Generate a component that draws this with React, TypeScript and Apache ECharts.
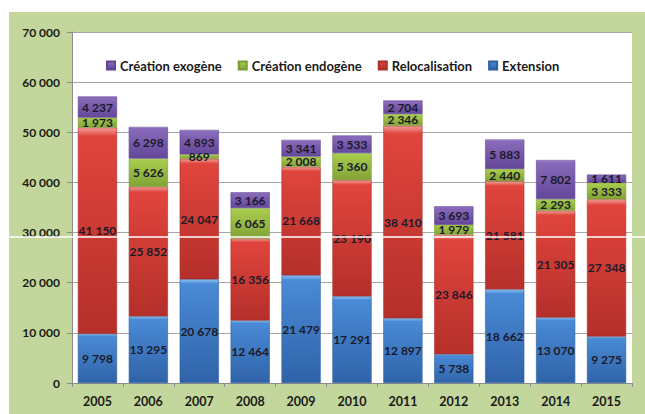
import React, { useEffect, useRef } from "react";
import * as echarts from "echarts";

const years = ["2005", "2006", "2007", "2008", "2009", "2010", "2011", "2012", "2013", "2014", "2015"];
const extension = [9798, 13295, 20678, 12464, 21479, 17291, 12897, 5738, 18662, 13070, 9275];
const relocalisation = [41150, 25852, 24047, 16356, 21668, 23190, 38410, 23846, 21581, 21305, 27348];
const creationEndogene = [1973, 5626, 869, 6065, 2008, 5360, 2346, 1979, 2440, 2293, 3333];
const creationExogene = [4237, 6298, 4893, 3166, 3341, 3533, 2704, 3693, 5883, 7802, 1611];
const legendOrder = ["Création exogène", "Création endogène", "Relocalisation", "Extension"];

const fmt = (v: number): string => {
  const s = String(Math.round(v));
  return s.replace(/\B(?=(\d{3})+(?!\d))/g, " ");
};

const FONT = "Lato, 'Open Sans', sans-serif";

const grad = (top: string, mid: string, bottom: string) =>
  new echarts.graphic.LinearGradient(0, 0, 0, 1, [
    { offset: 0, color: top },
    { offset: 0.04, color: mid },
    { offset: 1, color: bottom },
  ]);

export default function App() {
  const ref = useRef<HTMLDivElement>(null);
  useEffect(() => {
    if (!ref.current) return;
    const chart = echarts.init(ref.current, undefined, { renderer: "svg" });
    const mk = (name: string, data: number[], color: any, border: string) => ({
      name,
      type: "bar",
      stack: "total",
      data,
      barCategoryGap: "23%",
      itemStyle: { color, borderColor: border, borderWidth: 0.6 },
      label: {
        show: true,
        position: "inside",
        formatter: (p: any) => fmt(p.value),
        color: "#1a1a2a",
        fontFamily: FONT,
        fontWeight: "bold",
        fontSize: 12,
      },
    });
    chart.setOption({
      animation: false,
      backgroundColor: "#c3d69b",
      textStyle: { fontFamily: FONT },
      grid: {
        left: 63,
        right: 13,
        top: 20,
        bottom: 31,
        show: true,
        backgroundColor: "#ffffff",
        borderWidth: 0,
      },
      legend: {
        data: legendOrder.map((n) => ({ name: n })),
        top: 42,
        left: 92,
        itemWidth: 8,
        itemHeight: 8,
        itemGap: 16,
        icon: "rect",
        textStyle: { fontFamily: FONT, fontWeight: "bold", fontSize: 13, color: "#1a1a1a" },
      },
      xAxis: {
        type: "category",
        data: years,
        axisLine: { show: true, lineStyle: { color: "#8c8c8c" } },
        axisTick: { show: true, length: 4, lineStyle: { color: "#8c8c8c" } },
        axisLabel: { fontFamily: FONT, fontWeight: "bold", fontSize: 12.5, color: "#1a1a1a", margin: 12 },
      },
      yAxis: {
        type: "value",
        min: 0,
        max: 70000,
        interval: 10000,
        axisLine: { show: true, lineStyle: { color: "#8c8c8c" } },
        axisTick: { show: true, length: 5, lineStyle: { color: "#8c8c8c" } },
        axisLabel: {
          formatter: (v: number) => fmt(v),
          fontFamily: FONT,
          fontWeight: "bold",
          fontSize: 12,
          color: "#1a1a1a",
          margin: 12,
        },
        splitLine: { show: true, lineStyle: { color: "#a6a6a6", width: 1 } },
      },
      graphic: [
        {
          type: "line",
          shape: { x1: 0, y1: 225, x2: 640, y2: 225 },
          style: { stroke: "#ffffff", lineWidth: 1.5 },
          z: 100,
        },
      ],
      series: [
        mk("Extension", extension, grad("#8fc4f2", "#4a8ad6", "#2f63a8"), "#2d5f9f"),
        mk("Relocalisation", relocalisation, grad("#f2a09a", "#e0453d", "#b52f2a"), "#a8302b"),
        mk("Création endogène", creationEndogene, grad("#dff0a8", "#a8cc4c", "#82a336"), "#7a9a35"),
        mk("Création exogène", creationExogene, grad("#c0a8e0", "#8a6bbb", "#64479a"), "#5e4590"),
      ],
    });
    return () => chart.dispose();
  }, []);
  return (
    <div style={{ position: "fixed", left: 0, top: 0, width: 645, height: 414, background: "#ffffff" }}>
      <div ref={ref} style={{ position: "absolute", left: 9, top: 12, width: 636, height: 402 }} />
    </div>
  );
}
